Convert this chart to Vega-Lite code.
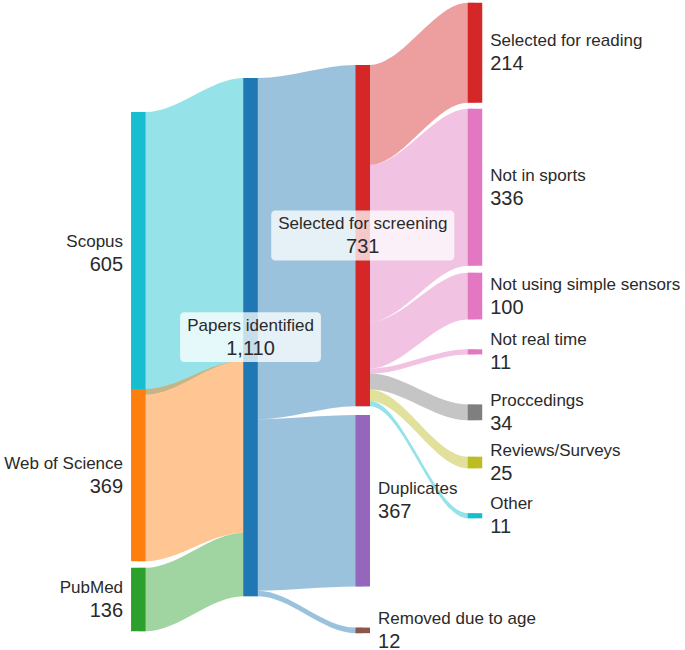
{
  "$schema": "https://vega.github.io/schema/vega-lite/v6.json",
  "width": 685,
  "height": 650,
  "padding": 0,
  "autosize": {"type": "none"},
  "config": {"view": {"stroke": null}, "font": "Liberation Sans"},
  "datasets": {
    "nodes": [
      {"name": "Scopus", "stage": 0, "value": 605, "top": 240, "kind": "source"},
      {"name": "Web of Science", "stage": 0, "value": 369, "top": 833, "kind": "source"},
      {"name": "PubMed", "stage": 0, "value": 136, "top": 1216, "kind": "source"},
      {"name": "Papers identified", "stage": 1, "value": 1110, "top": 167, "kind": "intermediate"},
      {"name": "Selected for screening", "stage": 2, "value": 731, "top": 139, "kind": "intermediate"},
      {"name": "Duplicates", "stage": 2, "value": 367, "top": 889, "kind": "outcome"},
      {"name": "Removed due to age", "stage": 2, "value": 12, "top": 1344, "kind": "outcome"},
      {"name": "Selected for reading", "stage": 3, "value": 214, "top": 6, "kind": "outcome"},
      {"name": "Not in sports", "stage": 3, "value": 336, "top": 233, "kind": "outcome"},
      {"name": "Not using simple sensors", "stage": 3, "value": 100, "top": 584, "kind": "outcome"},
      {"name": "Not real time", "stage": 3, "value": 11, "top": 748, "kind": "outcome"},
      {"name": "Proccedings", "stage": 3, "value": 34, "top": 866, "kind": "outcome"},
      {"name": "Reviews/Surveys", "stage": 3, "value": 25, "top": 978, "kind": "outcome"},
      {"name": "Other", "stage": 3, "value": 11, "top": 1099, "kind": "outcome"}
    ],
    "links": [
      {"i": 1, "source": "Scopus", "target": "Papers identified", "value": 605},
      {"i": 2, "source": "Web of Science", "target": "Papers identified", "value": 369},
      {"i": 3, "source": "PubMed", "target": "Papers identified", "value": 136},
      {"i": 4, "source": "Papers identified", "target": "Selected for screening", "value": 731},
      {"i": 5, "source": "Papers identified", "target": "Duplicates", "value": 367},
      {"i": 6, "source": "Papers identified", "target": "Removed due to age", "value": 12},
      {"i": 7, "source": "Selected for screening", "target": "Selected for reading", "value": 214},
      {"i": 8, "source": "Selected for screening", "target": "Not in sports", "value": 336},
      {"i": 9, "source": "Selected for screening", "target": "Not using simple sensors", "value": 100},
      {"i": 10, "source": "Selected for screening", "target": "Not real time", "value": 11},
      {"i": 11, "source": "Selected for screening", "target": "Proccedings", "value": 34},
      {"i": 12, "source": "Selected for screening", "target": "Reviews/Surveys", "value": 25},
      {"i": 13, "source": "Selected for screening", "target": "Other", "value": 11}
    ]
  },
  "layer": [
    {
      "data": {"name": "links"},
      "transform": [
        {"lookup": "source", "from": {"data": {"name": "nodes"}, "key": "name", "fields": ["stage", "top"]}, "as": ["sStage", "sTop"]},
        {"lookup": "target", "from": {"data": {"name": "nodes"}, "key": "name", "fields": ["stage", "top"]}, "as": ["tStage", "tTop"]},
        {"window": [{"op": "sum", "field": "value", "as": "sCum"}], "groupby": ["source"], "sort": [{"field": "i", "order": "ascending"}], "frame": [null, 0]},
        {"window": [{"op": "sum", "field": "value", "as": "tCum"}], "groupby": ["target"], "sort": [{"field": "i", "order": "ascending"}], "frame": [null, 0]},
        {"calculate": "datum.sTop + datum.sCum - datum.value", "as": "sy0"},
        {"calculate": "datum.sTop + datum.sCum", "as": "sy1"},
        {"calculate": "datum.tTop + datum.tCum - datum.value", "as": "ty0"},
        {"calculate": "datum.tTop + datum.tCum", "as": "ty1"},
        {"calculate": "datum.sStage == 2 ? datum.target : datum.source", "as": "colorKey"},
        {"calculate": "datum.sStage", "as": "p0"},
        {"calculate": "datum.sStage + 0.0646", "as": "p1"},
        {"calculate": "datum.tStage - 0.0646", "as": "p2"},
        {"calculate": "datum.tStage", "as": "p3"},
        {"fold": ["p0", "p1", "p2", "p3"], "as": ["pt", "px"]},
        {"calculate": "(datum.pt === 'p0' || datum.pt === 'p1') ? datum.sy0 : datum.ty0", "as": "yA"},
        {"calculate": "(datum.pt === 'p0' || datum.pt === 'p1') ? datum.sy1 : datum.ty1", "as": "yB"}
      ],
      "mark": {"type": "area", "interpolate": "monotone", "opacity": 0.45},
      "encoding": {
        "x": {"field": "px", "type": "quantitative", "scale": {"domain": [-1.2323, 4.8713], "nice": false, "zero": false}, "axis": null},
        "y": {"field": "yA", "type": "quantitative", "stack": null, "scale": {"domain": [0, 1392], "reverse": true, "nice": false, "zero": false}, "axis": null},
        "y2": {"field": "yB"},
        "detail": {"field": "i", "type": "nominal"},
        "color": {
          "field": "colorKey", "type": "nominal", "legend": null,
          "scale": {
            "domain": ["Scopus", "Web of Science", "PubMed", "Papers identified", "Selected for screening", "Duplicates", "Removed due to age", "Selected for reading", "Not in sports", "Not using simple sensors", "Not real time", "Proccedings", "Reviews/Surveys", "Other"],
            "range": ["#17becf", "#ff7f0e", "#2ca02c", "#1f77b4", "#d62728", "#9467bd", "#8c564b", "#d62728", "#e377c2", "#e377c2", "#e377c2", "#7f7f7f", "#bcbd22", "#17becf"]
          }
        }
      }
    },
    {
      "data": {"name": "nodes"},
      "transform": [{"calculate": "datum.top + datum.value", "as": "bottom"}],
      "mark": {"type": "rule", "strokeWidth": 14.5},
      "encoding": {
        "x": {"field": "stage", "type": "quantitative", "axis": null},
        "y": {"field": "top", "type": "quantitative", "axis": null},
        "y2": {"field": "bottom"},
        "color": {"field": "name", "type": "nominal", "legend": null}
      }
    },
    {
      "data": {"name": "nodes"},
      "transform": [
        {"filter": "datum.kind === 'intermediate'"},
        {"calculate": "datum.top + datum.value / 2", "as": "center"},
        {"calculate": "(8.46 * length(datum.name) - 3) / 2 / 112.23", "as": "halfW"},
        {"calculate": "datum.stage - datum.halfW", "as": "bx0"},
        {"calculate": "datum.stage + datum.halfW", "as": "bx1"},
        {"calculate": "datum.center - 53.5", "as": "by0"},
        {"calculate": "datum.center + 53.5", "as": "by1"}
      ],
      "mark": {"type": "rect", "fill": "white", "fillOpacity": 0.75, "cornerRadius": 4},
      "encoding": {
        "x": {"field": "bx0", "type": "quantitative", "axis": null},
        "x2": {"field": "bx1"},
        "y": {"field": "by0", "type": "quantitative", "axis": null},
        "y2": {"field": "by1"}
      }
    },
    {
      "data": {"name": "nodes"},
      "transform": [
        {"calculate": "datum.top + datum.value / 2", "as": "center"},
        {"calculate": "datum.kind === 'source' ? datum.stage - 0.1359 : (datum.kind === 'outcome' ? datum.stage + 0.1359 : datum.stage)", "as": "lx"}
      ],
      "encoding": {
        "x": {"field": "lx", "type": "quantitative", "axis": null},
        "y": {"field": "center", "type": "quantitative", "axis": null}
      },
      "layer": [
        {"transform": [{"filter": "datum.kind === 'source'"}], "mark": {"type": "text", "align": "right", "fontSize": 17, "dy": -6.5, "baseline": "alphabetic", "color": "#2a2a2a"}, "encoding": {"text": {"field": "name"}}},
        {"transform": [{"filter": "datum.kind === 'source'"}], "mark": {"type": "text", "align": "right", "fontSize": 20, "dy": 17.5, "baseline": "alphabetic", "color": "#2a2a2a"}, "encoding": {"text": {"field": "value", "type": "quantitative", "format": ","}}},
        {"transform": [{"filter": "datum.kind === 'outcome'"}], "mark": {"type": "text", "align": "left", "fontSize": 17, "dy": -6.5, "baseline": "alphabetic", "color": "#2a2a2a"}, "encoding": {"text": {"field": "name"}}},
        {"transform": [{"filter": "datum.kind === 'outcome'"}], "mark": {"type": "text", "align": "left", "fontSize": 20, "dy": 17.5, "baseline": "alphabetic", "color": "#2a2a2a"}, "encoding": {"text": {"field": "value", "type": "quantitative", "format": ","}}},
        {"transform": [{"filter": "datum.kind === 'intermediate'"}], "mark": {"type": "text", "align": "center", "fontSize": 17, "dy": -6.5, "baseline": "alphabetic", "color": "#2a2a2a"}, "encoding": {"text": {"field": "name"}}},
        {"transform": [{"filter": "datum.kind === 'intermediate'"}], "mark": {"type": "text", "align": "center", "fontSize": 20, "dy": 17.5, "baseline": "alphabetic", "color": "#2a2a2a"}, "encoding": {"text": {"field": "value", "type": "quantitative", "format": ","}}}
      ]
    }
  ]
}
